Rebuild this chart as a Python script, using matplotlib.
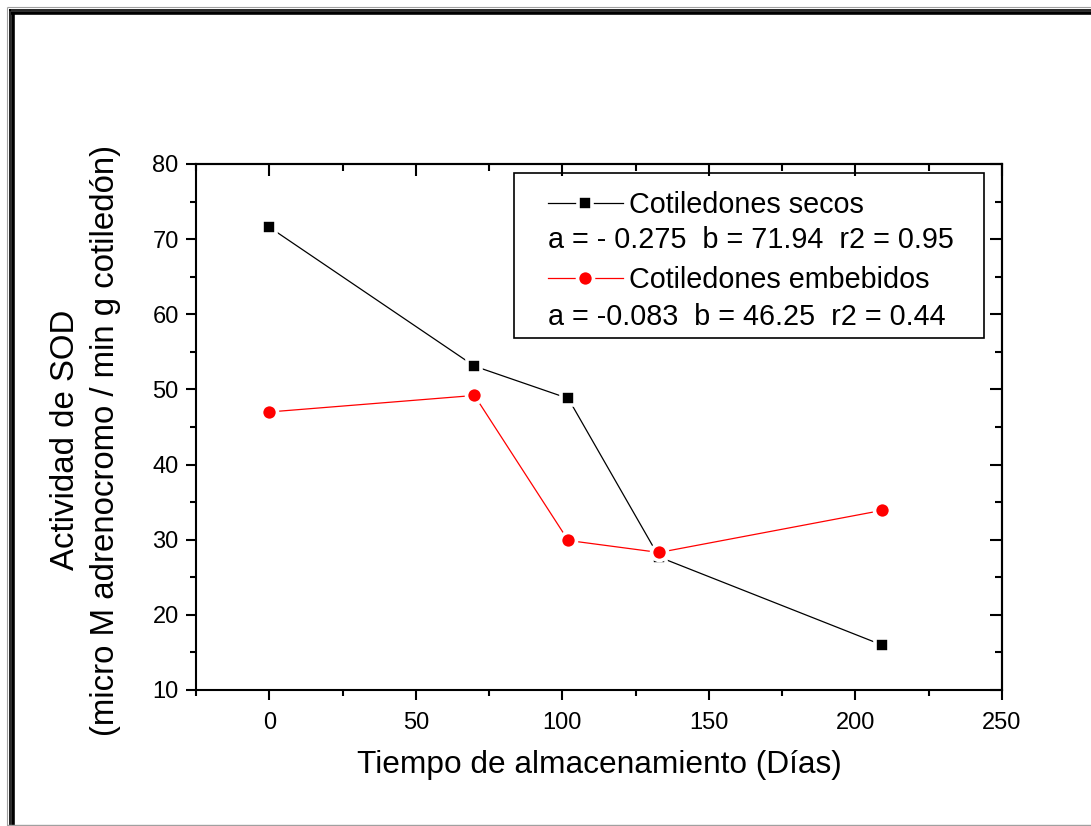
import matplotlib
matplotlib.use('Agg')
import matplotlib.pyplot as plt
from matplotlib.lines import Line2D
from matplotlib.patches import Rectangle
from matplotlib.ticker import MultipleLocator

plt.rcParams['font.family'] = ['Liberation Sans', 'DejaVu Sans']

# tiempo de almacenamiento (dias) y actividad de SOD
dias = [0, 70, 102, 133, 209]
sod_secos = [71.6, 53.1, 48.8, 27.7, 16.0]
sod_embebidos = [47.0, 49.2, 29.9, 28.3, 33.9]

etiqueta_secos = 'Cotiledones secos'
etiqueta_embebidos = 'Cotiledones embebidos'
ajuste_secos = 'a = - 0.275  b = 71.94  r2 = 0.95'
ajuste_embebidos = 'a = -0.083  b = 46.25  r2 = 0.44'

W, H = 1091, 826
fig = plt.figure(figsize=(W / 100, H / 100), dpi=100)
ax = fig.add_axes([196 / W, 1 - 690 / H, 806 / W, 526 / H])

# marco de la pagina (borde doble arriba/izquierda)
def linea(x0, y0, x1, y1, color, lw):
    fig.add_artist(Line2D([x0 / W, x1 / W], [1 - y0 / H, 1 - y1 / H],
                          transform=fig.transFigure, color=color, lw=lw,
                          solid_capstyle='butt'))

linea(7, 7, 7, H, '#a0a0a0', 0.8)
linea(7, 7, W, 7, '#a0a0a0', 0.8)
linea(9.8, 9, 9.8, H, 'black', 1.2)
linea(9, 9.8, W, 9.8, 'black', 1.2)
linea(13.2, 11.5, 13.2, H, 'black', 2.6)
linea(11.5, 13.2, W, 13.2, 'black', 2.6)
linea(7, 825, W, 825, '#a0a0a0', 1.0)

# borde blanco en los marcadores para separar la linea del punto
l1, = ax.plot(dias, sod_secos, color='black', lw=0.9, marker='s', ms=10.5,
              mfc='black', mec='white', mew=2.6, label=etiqueta_secos, zorder=3)
l2, = ax.plot(dias, sod_embebidos, color='red', lw=0.9, marker='o', ms=11.5,
              mfc='red', mec='white', mew=2.6, label=etiqueta_embebidos, zorder=4)

ax.set_xlim(-25, 250)
ax.set_ylim(10, 80)
ax.xaxis.set_major_locator(MultipleLocator(50))
ax.xaxis.set_minor_locator(MultipleLocator(25))
ax.yaxis.set_major_locator(MultipleLocator(10))
ax.yaxis.set_minor_locator(MultipleLocator(5))

for s in ax.spines.values():
    s.set_linewidth(1.5)

ax.tick_params(which='both', direction='out', width=1.5, labelsize=17)
ax.tick_params(which='major', length=7.5)
ax.tick_params(which='minor', length=4.5)
ax.tick_params(axis='x', pad=8)
ax.tick_params(axis='y', pad=5)

# ticks hacia dentro en los ejes superior y derecho
top = ax.secondary_xaxis('top')
top.xaxis.set_major_locator(MultipleLocator(50))
top.xaxis.set_minor_locator(MultipleLocator(25))
top.tick_params(which='both', direction='in', width=1.5, labeltop=False)
top.tick_params(which='major', length=8.5)
top.tick_params(which='minor', length=5)
right = ax.secondary_yaxis('right')
right.yaxis.set_major_locator(MultipleLocator(10))
right.yaxis.set_minor_locator(MultipleLocator(5))
right.tick_params(which='both', direction='in', width=1.5, labelright=False)
right.tick_params(which='major', length=8.5)
right.tick_params(which='minor', length=5)
for sec in (top, right):
    for s in sec.spines.values():
        s.set_linewidth(1.5)

ax.set_xlabel('Tiempo de almacenamiento (Días)', fontsize=22.8, labelpad=12)
ax.set_ylabel('Actividad de SOD\n(micro M adrenocromo / min g cotiledón)',
              fontsize=23.8, linespacing=1.35, va='center')
ax.yaxis.set_label_coords(-0.137, 0.475)

# leyenda con los parametros del ajuste
ax.add_patch(Rectangle((0.3945, 0.669), 0.5832, 0.314, transform=ax.transAxes,
                       fill=False, ec='black', lw=1.2, zorder=5))
ax.legend(handles=[l1, l2], loc='center left', bbox_to_anchor=(0.4367, 0.851),
          frameon=False, fontsize=20.7, handlelength=2.6, handletextpad=0.21,
          labelspacing=1.65, borderpad=0, borderaxespad=0)
ax.text(0.4367, 0.8555, ajuste_secos, transform=ax.transAxes, fontsize=20.7,
        ha='left', va='center')
ax.text(0.4367, 0.709, ajuste_embebidos, transform=ax.transAxes, fontsize=20.7,
        ha='left', va='center')

fig.savefig('out.png', dpi=100)
